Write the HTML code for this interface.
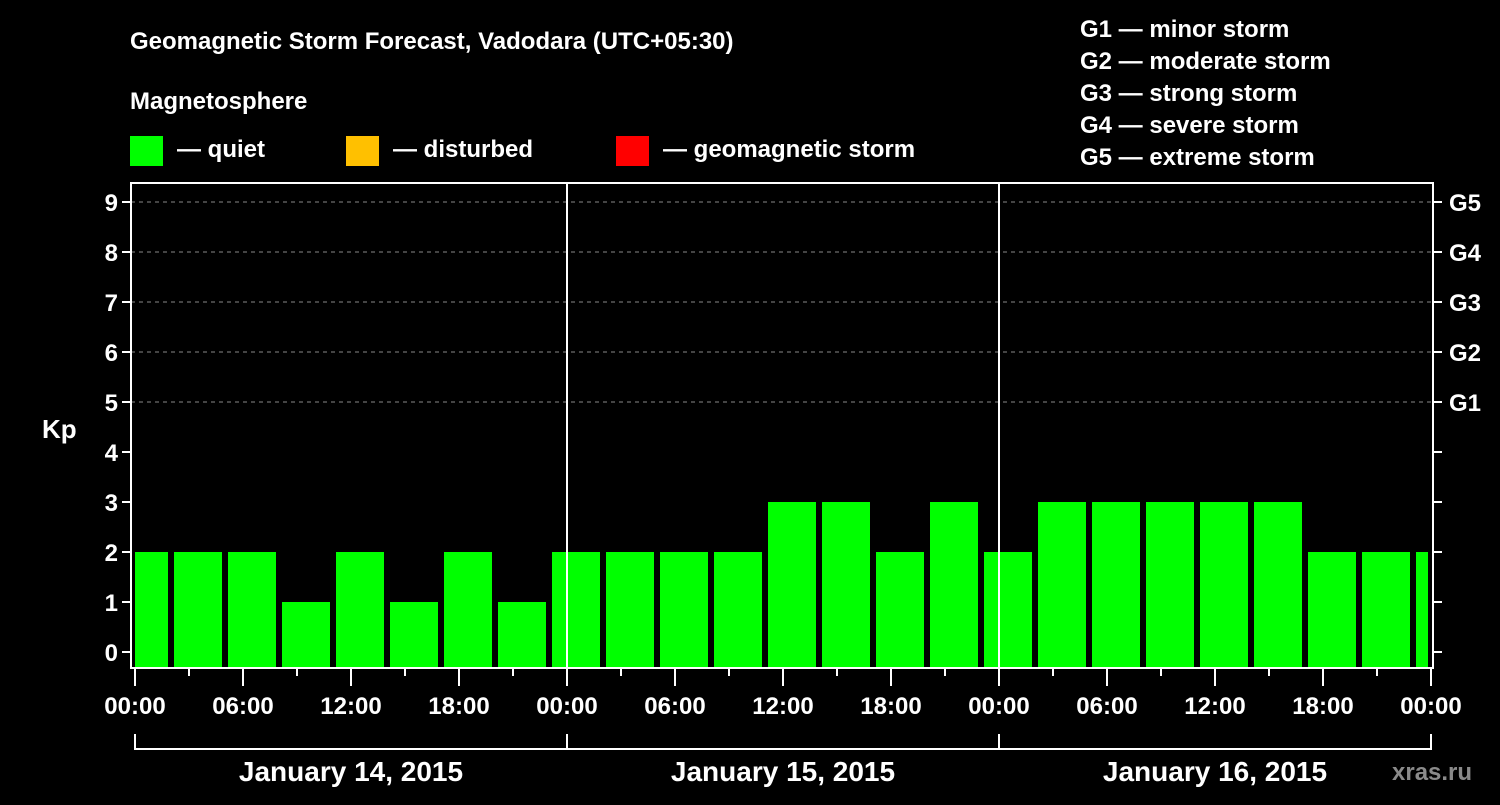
<!DOCTYPE html>
<html><head><meta charset="utf-8"><style>
body{margin:0;background:#000;width:1500px;height:800px;overflow:hidden}
svg text{font-family:"Liberation Sans",Arial,sans-serif;font-weight:bold;fill:#fff}
</style></head><body>
<svg id="c" width="1500" height="800" viewBox="0 0 1500 800">
<text x="130" y="49" font-size="24">Geomagnetic Storm Forecast, Vadodara (UTC+05:30)</text>
<text x="130" y="109" font-size="24">Magnetosphere</text>
<g><rect x="130" y="136" width="33" height="30" fill="#00ff00"/><text x="177" y="157" font-size="24">— quiet</text></g>
<g><rect x="346" y="136" width="33" height="30" fill="#ffc000"/><text x="393" y="157" font-size="24">— disturbed</text></g>
<g><rect x="616" y="136" width="33" height="30" fill="#ff0000"/><text x="663" y="157" font-size="24">— geomagnetic storm</text></g>
<g font-size="24">
<text x="1080" y="37">G1 — minor storm</text>
<text x="1080" y="69">G2 — moderate storm</text>
<text x="1080" y="101">G3 — strong storm</text>
<text x="1080" y="133">G4 — severe storm</text>
<text x="1080" y="165">G5 — extreme storm</text>
</g>
<text x="42" y="438" font-size="26">Kp</text>
<text x="1392" y="780" font-size="24" fill="#888" style="fill:#8a8a8a">xras.ru</text>
<g id="plot"></g>
</svg>
<script>
const kpValues=[2,2,2,1,2,1,2,1,2,2,2,2,3,3,2,3,2,3,3,3,3,3,2,2,2];
const startHour=-0.5, binHours=3;
const yTicks=[0,1,2,3,4,5,6,7,8,9];
const gLabels=["G1","G2","G3","G4","G5"];
const xLabels=["00:00","06:00","12:00","18:00","00:00","06:00","12:00","18:00","00:00","06:00","12:00","18:00","00:00"];
const days=["January 14, 2015","January 15, 2015","January 16, 2015"];
const L=131,R=1433,T=183,B=668;
const x=h=>135+h*18;
const y=v=>652-v*50;
const NS="http://www.w3.org/2000/svg";
const P=document.getElementById('plot');
function el(t,a,p){const e=document.createElementNS(NS,t);for(const k in a)e.setAttribute(k,a[k]);(p||P).appendChild(e);return e;}
// grid
yTicks.forEach(v=>{
  if(v>=5){const g=el('line',{x1:L,x2:R,y1:y(v),y2:y(v),stroke:'#888','stroke-dasharray':'4,4','stroke-width':1});
  
  }
  const t=el('text',{x:118,y:y(v)+9,'font-size':24,'text-anchor':'end'});t.textContent=v;
  
  
  el('line',{x1:L-9,x2:L,y1:y(v),y2:y(v),stroke:'#fff','stroke-width':2});
  el('line',{x1:R,x2:R+9,y1:y(v),y2:y(v),stroke:'#fff','stroke-width':2});
});
gLabels.forEach((g,i)=>{
  const t=el('text',{x:1449,y:y(i+5)+9,'font-size':24});t.textContent=g;
  
  
});
// bars
kpValues.forEach((v,i)=>{
  const s=startHour+i*binHours;
  let x0=Math.max(x(s)-6,135), x1=Math.min(x(s+binHours)-12,1428);
  const col=v>=5?'#ff0000':(v>=4?'#ffc000':'#00ff00');
  const b=el('rect',{x:x0,y:y(v),width:x1-x0,height:B-y(v),fill:col});
  
  
});
// day separators
[24,48].forEach(h=>el('line',{x1:x(h),x2:x(h),y1:T,y2:B,stroke:'#fff','stroke-width':2}));
// frame
el('path',{d:`M${L} ${B}V${T}H${R}V${B}Z`,fill:'none',stroke:'#fff','stroke-width':2});
// x ticks
for(let h=0;h<=72;h+=3){el('line',{x1:x(h),x2:x(h),y1:B,y2:B+(h%6?8:18),stroke:'#fff','stroke-width':2});}
xLabels.forEach((l,i)=>{
  const t=el('text',{x:x(i*6),y:714,'font-size':24,'text-anchor':'middle'});t.textContent=l;
  
  
});
// day brackets
el('path',{d:`M${x(0)} 734V749H${x(72)}V734M${x(24)} 734V749M${x(48)} 734V749`,fill:'none',stroke:'#fff','stroke-width':2});
days.forEach((d,i)=>{
  const t=el('text',{x:x(i*24+12),y:781,'font-size':28,'text-anchor':'middle'});t.textContent=d;
  
  
});
</script>
</body></html>
